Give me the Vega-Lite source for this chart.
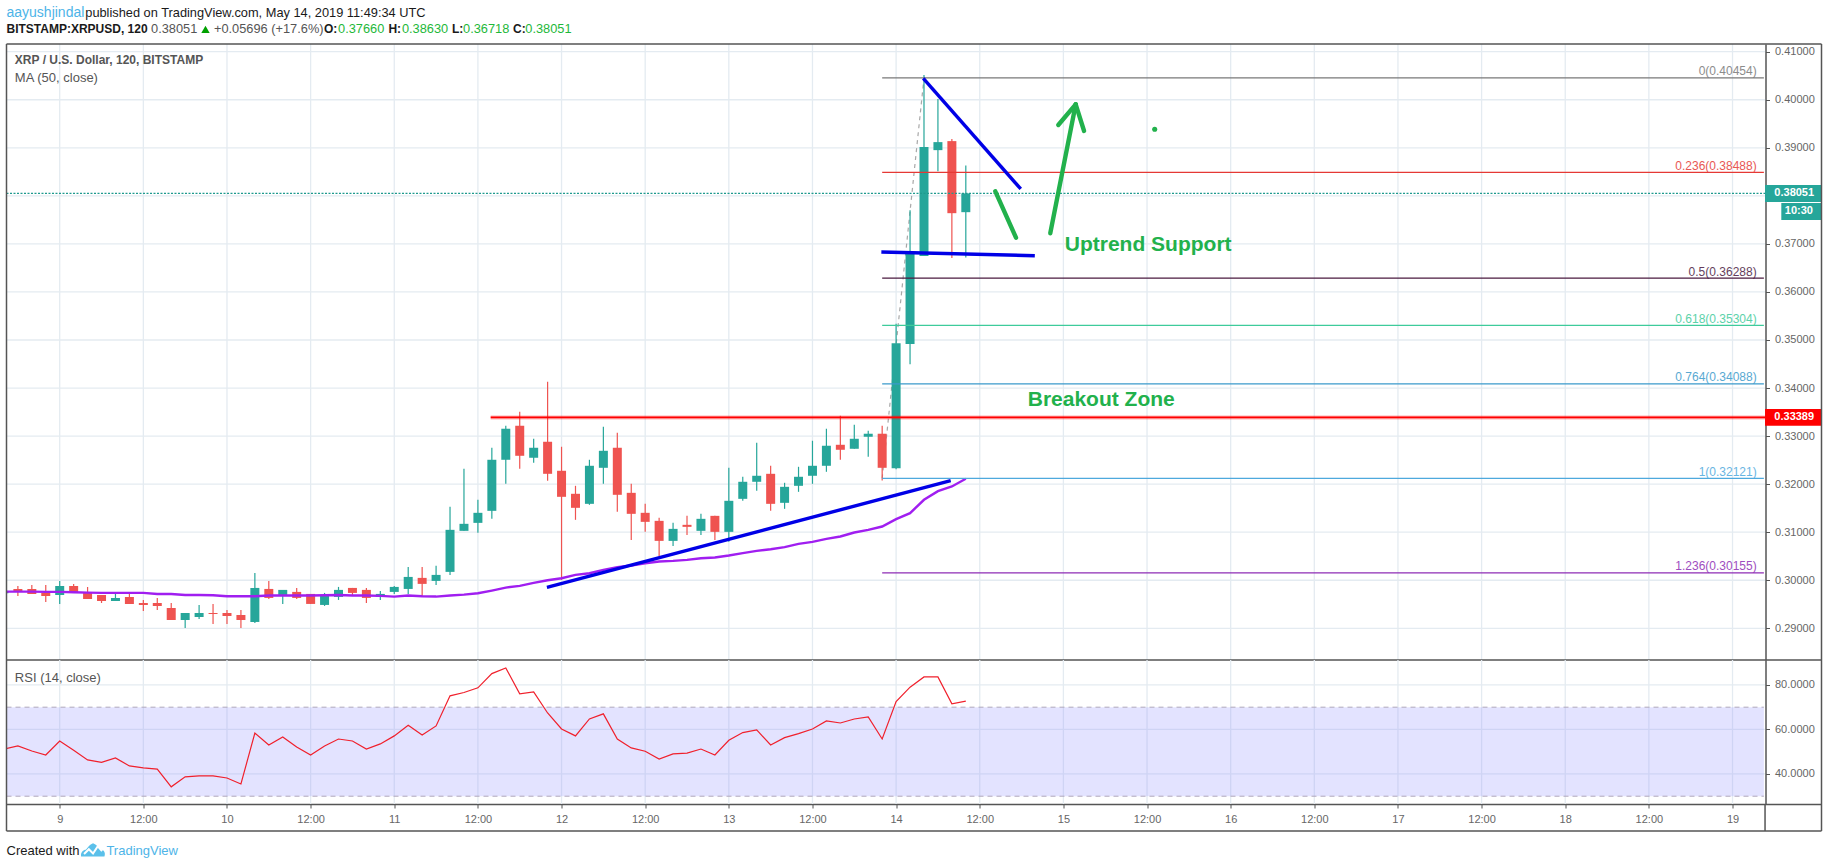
{"$schema":"https://vega.github.io/schema/vega-lite/v6.json","width":1815,"height":868,"padding":{"left":6.5,"right":6.5,"top":0,"bottom":0},"autosize":{"type":"none"},"background":"#ffffff","config":{"view":{"stroke":null},"font":"Liberation Sans"},
"encoding":{"x":{"field":"t","type":"temporal","title":null,"scale":{"type":"utc","padding":0,"domain":["2019-05-08T16:22:00Z","2019-05-19T12:46:00Z"]},"axis":{"orient":"bottom","offset":-64,"title":null,"grid":false,"domainColor":"#555555","domainWidth":1.5,"tickColor":"#555555","tickSize":4,"labelColor":"#666666","labelFont":"Liberation Sans","labelFontSize":11,"labelPadding":5,"labelOverlap":false,"labelFlush":false,"values":["2019-05-09T00:00:00Z","2019-05-09T12:00:00Z","2019-05-10T00:00:00Z","2019-05-10T12:00:00Z","2019-05-11T00:00:00Z","2019-05-11T12:00:00Z","2019-05-12T00:00:00Z","2019-05-12T12:00:00Z","2019-05-13T00:00:00Z","2019-05-13T12:00:00Z","2019-05-14T00:00:00Z","2019-05-14T12:00:00Z","2019-05-15T00:00:00Z","2019-05-15T12:00:00Z","2019-05-16T00:00:00Z","2019-05-16T12:00:00Z","2019-05-17T00:00:00Z","2019-05-17T12:00:00Z","2019-05-18T00:00:00Z","2019-05-18T12:00:00Z","2019-05-19T00:00:00Z"],"labelExpr":"utchours(datum.value)==0?''+utcdate(datum.value):'12:00'"}}},
"resolve":{"scale":{"y":"independent"},"axis":{"y":"independent"}},
"layer":[
{"encoding":{"y":{"field":"v","type":"quantitative","title":null,"scale":{"domain":[0.2834,0.4116],"range":[660,44]},"axis":{"orient":"right","offset":-56,"title":null,"grid":false,"format":".5f","values":[0.29,0.30,0.31,0.32,0.33,0.34,0.35,0.36,0.37,0.38,0.39,0.40,0.41],"domainColor":"#555555","domainWidth":1.5,"tickColor":"#555555","tickSize":4,"labelColor":"#666666","labelFont":"Liberation Sans","labelFontSize":11,"labelPadding":5,"labelOverlap":false,"labelFlush":false}}},
"layer":[
{"data":{"values":[{"v":0.29,"t":"2019-05-08T16:22:00Z","t2":"2019-05-19T04:40:00Z"},{"v":0.30,"t":"2019-05-08T16:22:00Z","t2":"2019-05-19T04:40:00Z"},{"v":0.31,"t":"2019-05-08T16:22:00Z","t2":"2019-05-19T04:40:00Z"},{"v":0.32,"t":"2019-05-08T16:22:00Z","t2":"2019-05-19T04:40:00Z"},{"v":0.33,"t":"2019-05-08T16:22:00Z","t2":"2019-05-19T04:40:00Z"},{"v":0.34,"t":"2019-05-08T16:22:00Z","t2":"2019-05-19T04:40:00Z"},{"v":0.35,"t":"2019-05-08T16:22:00Z","t2":"2019-05-19T04:40:00Z"},{"v":0.36,"t":"2019-05-08T16:22:00Z","t2":"2019-05-19T04:40:00Z"},{"v":0.37,"t":"2019-05-08T16:22:00Z","t2":"2019-05-19T04:40:00Z"},{"v":0.38,"t":"2019-05-08T16:22:00Z","t2":"2019-05-19T04:40:00Z"},{"v":0.39,"t":"2019-05-08T16:22:00Z","t2":"2019-05-19T04:40:00Z"},{"v":0.40,"t":"2019-05-08T16:22:00Z","t2":"2019-05-19T04:40:00Z"},{"v":0.41,"t":"2019-05-08T16:22:00Z","t2":"2019-05-19T04:40:00Z"}],"format":{"parse":{"t":"date","t2":"date"}}},"mark":{"type":"rule","color":"#e4ebf1","strokeWidth":1.3},"encoding":{"x2":{"field":"t2"}}},
{"data":{"values":[{"t":"2019-05-09T00:00:00Z","v":0.2834,"v2":0.4116},{"t":"2019-05-09T12:00:00Z","v":0.2834,"v2":0.4116},{"t":"2019-05-10T00:00:00Z","v":0.2834,"v2":0.4116},{"t":"2019-05-10T12:00:00Z","v":0.2834,"v2":0.4116},{"t":"2019-05-11T00:00:00Z","v":0.2834,"v2":0.4116},{"t":"2019-05-11T12:00:00Z","v":0.2834,"v2":0.4116},{"t":"2019-05-12T00:00:00Z","v":0.2834,"v2":0.4116},{"t":"2019-05-12T12:00:00Z","v":0.2834,"v2":0.4116},{"t":"2019-05-13T00:00:00Z","v":0.2834,"v2":0.4116},{"t":"2019-05-13T12:00:00Z","v":0.2834,"v2":0.4116},{"t":"2019-05-14T00:00:00Z","v":0.2834,"v2":0.4116},{"t":"2019-05-14T12:00:00Z","v":0.2834,"v2":0.4116},{"t":"2019-05-15T00:00:00Z","v":0.2834,"v2":0.4116},{"t":"2019-05-15T12:00:00Z","v":0.2834,"v2":0.4116},{"t":"2019-05-16T00:00:00Z","v":0.2834,"v2":0.4116},{"t":"2019-05-16T12:00:00Z","v":0.2834,"v2":0.4116},{"t":"2019-05-17T00:00:00Z","v":0.2834,"v2":0.4116},{"t":"2019-05-17T12:00:00Z","v":0.2834,"v2":0.4116},{"t":"2019-05-18T00:00:00Z","v":0.2834,"v2":0.4116},{"t":"2019-05-18T12:00:00Z","v":0.2834,"v2":0.4116},{"t":"2019-05-19T00:00:00Z","v":0.2834,"v2":0.4116}]},"mark":{"type":"rule","color":"#e4ebf1","strokeWidth":1.3},"encoding":{"y2":{"field":"v2"}}},
{"data":{"values":[{"t":"2019-05-13T22:00:00Z","t2":"2019-05-14T04:00:00Z","v":0.32121,"v2":0.40454}],"format":{"parse":{"t":"date","t2":"date"}}},"mark":{"type":"rule","color":"#a8a8a8","strokeWidth":1.2,"strokeDash":[4,4]},"encoding":{"x2":{"field":"t2"},"y2":{"field":"v2"}}},
{"data":{"name":"candles","values":[
{"t":"2019-05-08T16:00:00Z","d":"up","o":0.29729,"h":0.29778,"l":0.29729,"c":0.29778,"ma":0.29764},
{"t":"2019-05-08T18:00:00Z","d":"down","o":0.29819,"h":0.29882,"l":0.29674,"c":0.29764,"ma":0.29764},
{"t":"2019-05-08T20:00:00Z","d":"down","o":0.29819,"h":0.29903,"l":0.29715,"c":0.29715,"ma":0.29764},
{"t":"2019-05-08T22:00:00Z","d":"down","o":0.29736,"h":0.29903,"l":0.29549,"c":0.29674,"ma":0.29757},
{"t":"2019-05-09T00:00:00Z","d":"up","o":0.29694,"h":0.29986,"l":0.29507,"c":0.29882,"ma":0.29757},
{"t":"2019-05-09T02:00:00Z","d":"down","o":0.29882,"h":0.29924,"l":0.29736,"c":0.29736,"ma":0.2975},
{"t":"2019-05-09T04:00:00Z","d":"down","o":0.29736,"h":0.29861,"l":0.29611,"c":0.29611,"ma":0.29743},
{"t":"2019-05-09T06:00:00Z","d":"down","o":0.29694,"h":0.29694,"l":0.29528,"c":0.29569,"ma":0.29736},
{"t":"2019-05-09T08:00:00Z","d":"up","o":0.29569,"h":0.29743,"l":0.29569,"c":0.29632,"ma":0.29736},
{"t":"2019-05-09T10:00:00Z","d":"down","o":0.29653,"h":0.29743,"l":0.29507,"c":0.29507,"ma":0.29736},
{"t":"2019-05-09T12:00:00Z","d":"down","o":0.29528,"h":0.2959,"l":0.29361,"c":0.29486,"ma":0.29736},
{"t":"2019-05-09T14:00:00Z","d":"down","o":0.29528,"h":0.29632,"l":0.29382,"c":0.29465,"ma":0.29715},
{"t":"2019-05-09T16:00:00Z","d":"down","o":0.29424,"h":0.29528,"l":0.29174,"c":0.29174,"ma":0.29715},
{"t":"2019-05-09T18:00:00Z","d":"up","o":0.29174,"h":0.2932,"l":0.29007,"c":0.2932,"ma":0.29694},
{"t":"2019-05-09T20:00:00Z","d":"up","o":0.29236,"h":0.29486,"l":0.29194,"c":0.2932,"ma":0.29694},
{"t":"2019-05-09T22:00:00Z","d":"down","o":0.2932,"h":0.29507,"l":0.2909,"c":0.29299,"ma":0.29688},
{"t":"2019-05-10T00:00:00Z","d":"down","o":0.2932,"h":0.29382,"l":0.2909,"c":0.29257,"ma":0.29667},
{"t":"2019-05-10T02:00:00Z","d":"down","o":0.29278,"h":0.29382,"l":0.29007,"c":0.29174,"ma":0.29667},
{"t":"2019-05-10T04:00:00Z","d":"up","o":0.29132,"h":0.30153,"l":0.29111,"c":0.2984,"ma":0.29667},
{"t":"2019-05-10T06:00:00Z","d":"down","o":0.29819,"h":0.29986,"l":0.29611,"c":0.29632,"ma":0.29681},
{"t":"2019-05-10T08:00:00Z","d":"up","o":0.29694,"h":0.29799,"l":0.29507,"c":0.29799,"ma":0.29681},
{"t":"2019-05-10T10:00:00Z","d":"down","o":0.29757,"h":0.2984,"l":0.29611,"c":0.29632,"ma":0.29681},
{"t":"2019-05-10T12:00:00Z","d":"down","o":0.29715,"h":0.29715,"l":0.29507,"c":0.29507,"ma":0.29681},
{"t":"2019-05-10T14:00:00Z","d":"up","o":0.29486,"h":0.29736,"l":0.29465,"c":0.29674,"ma":0.29688},
{"t":"2019-05-10T16:00:00Z","d":"up","o":0.29653,"h":0.29861,"l":0.2959,"c":0.29799,"ma":0.29694},
{"t":"2019-05-10T18:00:00Z","d":"down","o":0.2984,"h":0.2984,"l":0.29694,"c":0.29736,"ma":0.29681},
{"t":"2019-05-10T20:00:00Z","d":"down","o":0.29799,"h":0.2984,"l":0.29528,"c":0.29632,"ma":0.29681},
{"t":"2019-05-10T22:00:00Z","d":"up","o":0.29653,"h":0.29778,"l":0.2959,"c":0.29715,"ma":0.29674},
{"t":"2019-05-11T00:00:00Z","d":"up","o":0.29757,"h":0.29882,"l":0.29715,"c":0.29861,"ma":0.2966},
{"t":"2019-05-11T02:00:00Z","d":"up","o":0.29819,"h":0.30278,"l":0.29715,"c":0.30069,"ma":0.29681},
{"t":"2019-05-11T04:00:00Z","d":"down","o":0.30049,"h":0.30278,"l":0.29674,"c":0.29924,"ma":0.29667},
{"t":"2019-05-11T06:00:00Z","d":"up","o":0.29986,"h":0.30299,"l":0.29903,"c":0.30111,"ma":0.2966},
{"t":"2019-05-11T08:00:00Z","d":"up","o":0.30174,"h":0.31528,"l":0.30111,"c":0.31049,"ma":0.29681},
{"t":"2019-05-11T10:00:00Z","d":"up","o":0.31028,"h":0.32319,"l":0.31028,"c":0.31174,"ma":0.29701},
{"t":"2019-05-11T12:00:00Z","d":"up","o":0.31194,"h":0.31674,"l":0.30986,"c":0.31403,"ma":0.29729},
{"t":"2019-05-11T14:00:00Z","d":"up","o":0.31444,"h":0.32757,"l":0.31278,"c":0.32507,"ma":0.29785},
{"t":"2019-05-11T16:00:00Z","d":"up","o":0.32507,"h":0.33215,"l":0.32007,"c":0.33153,"ma":0.29847},
{"t":"2019-05-11T18:00:00Z","d":"down","o":0.33215,"h":0.33507,"l":0.32319,"c":0.3259,"ma":0.29882},
{"t":"2019-05-11T20:00:00Z","d":"up","o":0.32549,"h":0.32944,"l":0.32444,"c":0.32757,"ma":0.29944},
{"t":"2019-05-11T22:00:00Z","d":"down","o":0.32882,"h":0.34132,"l":0.3207,"c":0.32215,"ma":0.3},
{"t":"2019-05-12T00:00:00Z","d":"down","o":0.32278,"h":0.32778,"l":0.30007,"c":0.31736,"ma":0.30042},
{"t":"2019-05-12T02:00:00Z","d":"down","o":0.31799,"h":0.31965,"l":0.31257,"c":0.31507,"ma":0.30111},
{"t":"2019-05-12T04:00:00Z","d":"up","o":0.3159,"h":0.32507,"l":0.31569,"c":0.32382,"ma":0.30146},
{"t":"2019-05-12T06:00:00Z","d":"up","o":0.3234,"h":0.33194,"l":0.32007,"c":0.32694,"ma":0.30215},
{"t":"2019-05-12T08:00:00Z","d":"down","o":0.32757,"h":0.33069,"l":0.31424,"c":0.31778,"ma":0.30271},
{"t":"2019-05-12T10:00:00Z","d":"down","o":0.31819,"h":0.32007,"l":0.3084,"c":0.31382,"ma":0.30306},
{"t":"2019-05-12T12:00:00Z","d":"down","o":0.31403,"h":0.3159,"l":0.31007,"c":0.31215,"ma":0.30354},
{"t":"2019-05-12T14:00:00Z","d":"down","o":0.31236,"h":0.31299,"l":0.30507,"c":0.30819,"ma":0.30389},
{"t":"2019-05-12T16:00:00Z","d":"up","o":0.30819,"h":0.31194,"l":0.30715,"c":0.31069,"ma":0.30403},
{"t":"2019-05-12T18:00:00Z","d":"down","o":0.31153,"h":0.3134,"l":0.30944,"c":0.31111,"ma":0.30424},
{"t":"2019-05-12T20:00:00Z","d":"up","o":0.31028,"h":0.31382,"l":0.30944,"c":0.31278,"ma":0.30458},
{"t":"2019-05-12T22:00:00Z","d":"down","o":0.3134,"h":0.3134,"l":0.3084,"c":0.31007,"ma":0.30472},
{"t":"2019-05-13T00:00:00Z","d":"up","o":0.31007,"h":0.3234,"l":0.30799,"c":0.31653,"ma":0.30514},
{"t":"2019-05-13T02:00:00Z","d":"up","o":0.31694,"h":0.32153,"l":0.31653,"c":0.32049,"ma":0.30563},
{"t":"2019-05-13T04:00:00Z","d":"up","o":0.32049,"h":0.32861,"l":0.31861,"c":0.32174,"ma":0.30611},
{"t":"2019-05-13T06:00:00Z","d":"down","o":0.32215,"h":0.32382,"l":0.31444,"c":0.3159,"ma":0.30646},
{"t":"2019-05-13T08:00:00Z","d":"up","o":0.31611,"h":0.32028,"l":0.31486,"c":0.31944,"ma":0.30688},
{"t":"2019-05-13T10:00:00Z","d":"up","o":0.31965,"h":0.32361,"l":0.3184,"c":0.32153,"ma":0.30757},
{"t":"2019-05-13T12:00:00Z","d":"up","o":0.32174,"h":0.32903,"l":0.32007,"c":0.32382,"ma":0.30799},
{"t":"2019-05-13T14:00:00Z","d":"up","o":0.32382,"h":0.33153,"l":0.32257,"c":0.32799,"ma":0.30861},
{"t":"2019-05-13T16:00:00Z","d":"down","o":0.32819,"h":0.33424,"l":0.32507,"c":0.32715,"ma":0.3091},
{"t":"2019-05-13T18:00:00Z","d":"up","o":0.32736,"h":0.33236,"l":0.32736,"c":0.32944,"ma":0.30993},
{"t":"2019-05-13T20:00:00Z","d":"up","o":0.32986,"h":0.33111,"l":0.32569,"c":0.33049,"ma":0.31049},
{"t":"2019-05-13T22:00:00Z","d":"down","o":0.33049,"h":0.33215,"l":0.32076,"c":0.3234,"ma":0.31118},
{"t":"2019-05-14T00:00:00Z","d":"up","o":0.32333,"h":0.3534,"l":0.32312,"c":0.34931,"ma":0.31271},
{"t":"2019-05-14T02:00:00Z","d":"up","o":0.34917,"h":0.37701,"l":0.34493,"c":0.36799,"ma":0.31396},
{"t":"2019-05-14T04:00:00Z","d":"up","o":0.3675,"h":0.40514,"l":0.3675,"c":0.39014,"ma":0.31674},
{"t":"2019-05-14T06:00:00Z","d":"up","o":0.38951,"h":0.40014,"l":0.38514,"c":0.39118,"ma":0.31854},
{"t":"2019-05-14T08:00:00Z","d":"down","o":0.39139,"h":0.39181,"l":0.36708,"c":0.37639,"ma":0.31951},
{"t":"2019-05-14T10:00:00Z","d":"up","o":0.3766,"h":0.3863,"l":0.36718,"c":0.38051,"ma":0.32111}
]},
"layer":[
{"mark":{"type":"rule","strokeWidth":1.2,"clip":true},"encoding":{"y":{"field":"l","type":"quantitative","title":null,"scale":{"domain":[0.2834,0.4116],"range":[660,44]},"axis":{"orient":"right","offset":-56,"title":null,"grid":false,"format":".5f","values":[0.29,0.30,0.31,0.32,0.33,0.34,0.35,0.36,0.37,0.38,0.39,0.40,0.41],"domainColor":"#555555","domainWidth":1.5,"tickColor":"#555555","tickSize":4,"labelColor":"#666666","labelFont":"Liberation Sans","labelFontSize":11,"labelPadding":5,"labelOverlap":false,"labelFlush":false}},"y2":{"field":"h"},"color":{"field":"d","type":"nominal","legend":null,"scale":{"domain":["up","down","f0","f236","f5","f618","f764","f1","f1236","link","black","gain","gray","white","zone","blue","red"],"range":["#26a69a","#ef5350","#787878","#e53935","#4a1a3f","#3ecb9b","#3a9acb","#4ea9dd","#8e2db5","#4db4e8","#1a1a1a","#1eb83a","#555555","#ffffff","#22b14c","#0000e6","#ff0000"]}}}},
{"mark":{"type":"bar","size":9,"clip":true},"encoding":{"y":{"field":"o","type":"quantitative","title":null,"scale":{"domain":[0.2834,0.4116],"range":[660,44]},"axis":{"orient":"right","offset":-56,"title":null,"grid":false,"format":".5f","values":[0.29,0.30,0.31,0.32,0.33,0.34,0.35,0.36,0.37,0.38,0.39,0.40,0.41],"domainColor":"#555555","domainWidth":1.5,"tickColor":"#555555","tickSize":4,"labelColor":"#666666","labelFont":"Liberation Sans","labelFontSize":11,"labelPadding":5,"labelOverlap":false,"labelFlush":false}},"y2":{"field":"c"},"color":{"field":"d","type":"nominal","legend":null,"scale":{"domain":["up","down","f0","f236","f5","f618","f764","f1","f1236","link","black","gain","gray","white","zone","blue","red"],"range":["#26a69a","#ef5350","#787878","#e53935","#4a1a3f","#3ecb9b","#3a9acb","#4ea9dd","#8e2db5","#4db4e8","#1a1a1a","#1eb83a","#555555","#ffffff","#22b14c","#0000e6","#ff0000"]}}}},
{"mark":{"type":"line","color":"#a01ef0","strokeWidth":2.4,"clip":true,"interpolate":"linear"},"encoding":{"y":{"field":"ma","type":"quantitative","title":null,"scale":{"domain":[0.2834,0.4116],"range":[660,44]},"axis":{"orient":"right","offset":-56,"title":null,"grid":false,"format":".5f","values":[0.29,0.30,0.31,0.32,0.33,0.34,0.35,0.36,0.37,0.38,0.39,0.40,0.41],"domainColor":"#555555","domainWidth":1.5,"tickColor":"#555555","tickSize":4,"labelColor":"#666666","labelFont":"Liberation Sans","labelFontSize":11,"labelPadding":5,"labelOverlap":false,"labelFlush":false}}}}
]},
{"data":{"values":[{"t":"2019-05-08T16:22:00Z","t2":"2019-05-19T04:40:00Z","v":0.38051}],"format":{"parse":{"t":"date","t2":"date"}}},"mark":{"type":"rule","color":"#1f9a8e","strokeWidth":1.2,"strokeDash":[2,1.5]},"encoding":{"x2":{"field":"t2"}}},
{"data":{"values":[{"k":"f0","t":"2019-05-13T22:00:00Z","t2":"2019-05-19T04:30:00Z","v":0.40454},{"k":"f236","t":"2019-05-13T22:00:00Z","t2":"2019-05-19T04:30:00Z","v":0.38488},{"k":"f5","t":"2019-05-13T22:00:00Z","t2":"2019-05-19T04:30:00Z","v":0.36288},{"k":"f618","t":"2019-05-13T22:00:00Z","t2":"2019-05-19T04:30:00Z","v":0.35304},{"k":"f764","t":"2019-05-13T22:00:00Z","t2":"2019-05-19T04:30:00Z","v":0.34088},{"k":"f1","t":"2019-05-13T22:00:00Z","t2":"2019-05-19T04:30:00Z","v":0.32121},{"k":"f1236","t":"2019-05-13T22:00:00Z","t2":"2019-05-19T04:30:00Z","v":0.30155}],"format":{"parse":{"t":"date","t2":"date"}}},"mark":{"type":"rule","strokeWidth":1.2},"encoding":{"x2":{"field":"t2"},"color":{"field":"k","type":"nominal","legend":null,"scale":{"domain":["up","down","f0","f236","f5","f618","f764","f1","f1236","link","black","gain","gray","white","zone","blue","red"],"range":["#26a69a","#ef5350","#787878","#e53935","#4a1a3f","#3ecb9b","#3a9acb","#4ea9dd","#8e2db5","#4db4e8","#1a1a1a","#1eb83a","#555555","#ffffff","#22b14c","#0000e6","#ff0000"]}}}},
{"data":{"values":[{"k":"f0","label":"0(0.40454)","t":"2019-05-19T03:28:00Z","v":0.40589},{"k":"f236","label":"0.236(0.38488)","t":"2019-05-19T03:28:00Z","v":0.38623},{"k":"f5","label":"0.5(0.36288)","t":"2019-05-19T03:28:00Z","v":0.36423},{"k":"f618","label":"0.618(0.35304)","t":"2019-05-19T03:28:00Z","v":0.35439},{"k":"f764","label":"0.764(0.34088)","t":"2019-05-19T03:28:00Z","v":0.34223},{"k":"f1","label":"1(0.32121)","t":"2019-05-19T03:28:00Z","v":0.32256},{"k":"f1236","label":"1.236(0.30155)","t":"2019-05-19T03:28:00Z","v":0.3029}]},"mark":{"type":"text","align":"right","baseline":"middle","fontSize":12,"opacity":0.85},"encoding":{"text":{"field":"label"},"color":{"field":"k","type":"nominal","legend":null,"scale":{"domain":["up","down","f0","f236","f5","f618","f764","f1","f1236","link","black","gain","gray","white","zone","blue","red"],"range":["#26a69a","#ef5350","#787878","#e53935","#4a1a3f","#3ecb9b","#3a9acb","#4ea9dd","#8e2db5","#4db4e8","#1a1a1a","#1eb83a","#555555","#ffffff","#22b14c","#0000e6","#ff0000"]}}}},
{"data":{"values":[{"t":"2019-05-11T13:50:00Z","t2":"2019-05-19T04:40:00Z","v":0.33389}],"format":{"parse":{"t":"date","t2":"date"}}},"layer":[{"mark":{"type":"rule","color":"#ff0000","strokeWidth":4,"opacity":0.3},"encoding":{"x2":{"field":"t2"}}},{"mark":{"type":"rule","color":"#ff0000","strokeWidth":1.8},"encoding":{"x2":{"field":"t2"}}}]},
{"data":{"values":[{"t":"2019-05-11T21:54:00Z","t2":"2019-05-14T07:50:00Z","v":0.29853,"v2":0.32072},{"t":"2019-05-14T03:54:00Z","t2":"2019-05-14T17:53:00Z","v":0.40446,"v2":0.38143},{"t":"2019-05-13T21:53:00Z","t2":"2019-05-14T19:54:00Z","v":0.36831,"v2":0.36754}],"format":{"parse":{"t":"date","t2":"date"}}},"mark":{"type":"rule","color":"#0000e6","strokeWidth":3.4},"encoding":{"x2":{"field":"t2"},"y2":{"field":"v2"}}},
{"data":{"values":[{"t":"2019-05-14T14:14:00Z","t2":"2019-05-14T17:12:00Z","v":0.38095,"v2":0.37129},{"t":"2019-05-14T22:07:00Z","t2":"2019-05-15T01:46:00Z","v":0.37221,"v2":0.39905},{"t":"2019-05-14T23:16:00Z","t2":"2019-05-15T01:46:00Z","v":0.39475,"v2":0.39905},{"t":"2019-05-15T02:58:00Z","t2":"2019-05-15T01:46:00Z","v":0.3935,"v2":0.39905}],"format":{"parse":{"t":"date","t2":"date"}}},"mark":{"type":"rule","color":"#22b14c","strokeWidth":4.4,"strokeCap":"round"},"encoding":{"x2":{"field":"t2"},"y2":{"field":"v2"}}},
{"data":{"values":[{"t":"2019-05-15T13:06:00Z","v":0.39385}]},"mark":{"type":"point","filled":true,"opacity":1,"color":"#22b14c","size":26}},
{"data":{"values":[{"t":"2019-05-19T04:40:00Z","t2":"2019-05-19T12:46:00Z","v":0.38225,"v2":0.37872,"k":"up"},{"t":"2019-05-19T07:00:00Z","t2":"2019-05-19T12:46:00Z","v":0.37851,"v2":0.37497,"k":"up"},{"t":"2019-05-19T04:40:00Z","t2":"2019-05-19T12:46:00Z","v":0.33564,"v2":0.33217,"k":"red"}],"format":{"parse":{"t":"date","t2":"date"}}},"mark":{"type":"rect"},"encoding":{"x2":{"field":"t2"},"y2":{"field":"v2"},"color":{"field":"k","type":"nominal","legend":null,"scale":{"domain":["up","down","f0","f236","f5","f618","f764","f1","f1236","link","black","gain","gray","white","zone","blue","red"],"range":["#26a69a","#ef5350","#787878","#e53935","#4a1a3f","#3ecb9b","#3a9acb","#4ea9dd","#8e2db5","#4db4e8","#1a1a1a","#1eb83a","#555555","#ffffff","#22b14c","#0000e6","#ff0000"]}}}},
{"data":{"values":[{"t":"2019-05-08T16:22:00Z","t2":"2019-05-19T12:46:00Z","v":0.4116},{"t":"2019-05-08T16:22:00Z","t2":"2019-05-19T12:46:00Z","v":0.2834}],"format":{"parse":{"t":"date","t2":"date"}}},"mark":{"type":"rule","color":"#555555","strokeWidth":1.5},"encoding":{"x2":{"field":"t2"}}},
{"data":{"values":[{"t":"2019-05-08T16:22:00Z","v":0.4116,"v2":0.2834},{"t":"2019-05-19T12:46:00Z","v":0.4116,"v2":0.2834}]},"mark":{"type":"rule","color":"#555555","strokeWidth":1.5},"encoding":{"y2":{"field":"v2"}}},
{"data":{"values":[{"label":"aayushjindal","t":"2019-05-08T16:22:00Z","v":0.41812}]},"mark":{"type":"text","align":"left","baseline":"middle","fontSize":14,"color":"#4db4e8"},"encoding":{"text":{"field":"label"}}},
{"data":{"values":[{"label":"published on TradingView.com, May 14, 2019 11:49:34 UTC","k":"black","t":"2019-05-09T03:40:00Z","v":0.41812},{"label":"0.38051","k":"gray","t":"2019-05-09T13:06:00Z","v":0.41466},{"label":"+0.05696 (+17.6%)","k":"gray","t":"2019-05-09T22:08:00Z","v":0.41466},{"label":"0.37660","k":"gain","t":"2019-05-10T15:56:00Z","v":0.41466},{"label":"0.38630","k":"gain","t":"2019-05-11T01:06:00Z","v":0.41466},{"label":"0.36718","k":"gain","t":"2019-05-11T09:52:00Z","v":0.41466},{"label":"0.38051","k":"gain","t":"2019-05-11T18:48:00Z","v":0.41466}]},"mark":{"type":"text","align":"left","baseline":"middle","fontSize":12.8},"encoding":{"text":{"field":"label"},"color":{"field":"k","type":"nominal","legend":null,"scale":{"domain":["up","down","f0","f236","f5","f618","f764","f1","f1236","link","black","gain","gray","white","zone","blue","red"],"range":["#26a69a","#ef5350","#787878","#e53935","#4a1a3f","#3ecb9b","#3a9acb","#4ea9dd","#8e2db5","#4db4e8","#1a1a1a","#1eb83a","#555555","#ffffff","#22b14c","#0000e6","#ff0000"]}}}},
{"data":{"values":[{"label":"MA (50, close)","t":"2019-05-08T17:34:00Z","v":0.40459}]},"mark":{"type":"text","align":"left","baseline":"middle","fontSize":13,"color":"#555555"},"encoding":{"text":{"field":"label"}}},
{"data":{"values":[{"label":"BITSTAMP:XRPUSD, 120","k":"black","t":"2019-05-08T16:22:00Z","v":0.41466},{"label":"O:","k":"black","t":"2019-05-10T13:55:00Z","v":0.41466},{"label":"H:","k":"black","t":"2019-05-10T23:10:00Z","v":0.41466},{"label":"L:","k":"black","t":"2019-05-11T08:17:00Z","v":0.41466},{"label":"C:","k":"black","t":"2019-05-11T17:02:00Z","v":0.41466},{"label":"XRP / U.S. Dollar, 120, BITSTAMP","k":"gray","t":"2019-05-08T17:34:00Z","v":0.40821}]},"mark":{"type":"text","align":"left","baseline":"middle","fontSize":12,"fontWeight":"bold"},"encoding":{"text":{"field":"label"},"color":{"field":"k","type":"nominal","legend":null,"scale":{"domain":["up","down","f0","f236","f5","f618","f764","f1","f1236","link","black","gain","gray","white","zone","blue","red"],"range":["#26a69a","#ef5350","#787878","#e53935","#4a1a3f","#3ecb9b","#3a9acb","#4ea9dd","#8e2db5","#4db4e8","#1a1a1a","#1eb83a","#555555","#ffffff","#22b14c","#0000e6","#ff0000"]}}}},
{"data":{"values":[{"t":"2019-05-09T20:55:00Z","v":0.41466}]},"mark":{"type":"point","shape":"triangle-up","filled":true,"opacity":1,"color":"#00a000","size":70}},
{"data":{"values":[{"label":"0.38051","t":"2019-05-19T06:00:00Z","v":0.3805},{"label":"10:30","t":"2019-05-19T07:30:00Z","v":0.37685},{"label":"0.33389","t":"2019-05-19T06:00:00Z","v":0.3339}]},"mark":{"type":"text","align":"left","baseline":"middle","fontSize":11,"fontWeight":"bold","color":"#ffffff"},"encoding":{"text":{"field":"label"}}},
{"data":{"values":[{"label":"Uptrend Support","t":"2019-05-15T00:12:00Z","v":0.36977},{"label":"Breakout Zone","t":"2019-05-14T18:53:00Z","v":0.33751}]},"mark":{"type":"text","align":"left","baseline":"middle","fontSize":21,"fontWeight":"bold","color":"#22b14c"},"encoding":{"text":{"field":"label"}}}
]},
{"encoding":{"y":{"field":"v","type":"quantitative","title":null,"scale":{"domain":[26.5,91.2],"range":[804,660]},"axis":{"orient":"right","offset":-56,"title":null,"grid":false,"format":".4f","values":[40,60,80],"domainColor":"#555555","domainWidth":1.5,"tickColor":"#555555","tickSize":4,"labelColor":"#666666","labelFont":"Liberation Sans","labelFontSize":11,"labelPadding":5,"labelOverlap":false,"labelFlush":false}}},
"layer":[
{"data":{"values":[{"v":40,"t":"2019-05-08T16:22:00Z","t2":"2019-05-19T04:40:00Z"},{"v":60,"t":"2019-05-08T16:22:00Z","t2":"2019-05-19T04:40:00Z"},{"v":80,"t":"2019-05-08T16:22:00Z","t2":"2019-05-19T04:40:00Z"}],"format":{"parse":{"t":"date","t2":"date"}}},"mark":{"type":"rule","color":"#e4ebf1","strokeWidth":1.3},"encoding":{"x2":{"field":"t2"}}},
{"data":{"values":[{"t":"2019-05-09T00:00:00Z","v":26.5,"v2":91.2},{"t":"2019-05-09T12:00:00Z","v":26.5,"v2":91.2},{"t":"2019-05-10T00:00:00Z","v":26.5,"v2":91.2},{"t":"2019-05-10T12:00:00Z","v":26.5,"v2":91.2},{"t":"2019-05-11T00:00:00Z","v":26.5,"v2":91.2},{"t":"2019-05-11T12:00:00Z","v":26.5,"v2":91.2},{"t":"2019-05-12T00:00:00Z","v":26.5,"v2":91.2},{"t":"2019-05-12T12:00:00Z","v":26.5,"v2":91.2},{"t":"2019-05-13T00:00:00Z","v":26.5,"v2":91.2},{"t":"2019-05-13T12:00:00Z","v":26.5,"v2":91.2},{"t":"2019-05-14T00:00:00Z","v":26.5,"v2":91.2},{"t":"2019-05-14T12:00:00Z","v":26.5,"v2":91.2},{"t":"2019-05-15T00:00:00Z","v":26.5,"v2":91.2},{"t":"2019-05-15T12:00:00Z","v":26.5,"v2":91.2},{"t":"2019-05-16T00:00:00Z","v":26.5,"v2":91.2},{"t":"2019-05-16T12:00:00Z","v":26.5,"v2":91.2},{"t":"2019-05-17T00:00:00Z","v":26.5,"v2":91.2},{"t":"2019-05-17T12:00:00Z","v":26.5,"v2":91.2},{"t":"2019-05-18T00:00:00Z","v":26.5,"v2":91.2},{"t":"2019-05-18T12:00:00Z","v":26.5,"v2":91.2},{"t":"2019-05-19T00:00:00Z","v":26.5,"v2":91.2}]},"mark":{"type":"rule","color":"#e4ebf1","strokeWidth":1.3},"encoding":{"y2":{"field":"v2"}}},
{"data":{"values":[{"t":"2019-05-08T16:22:00Z","t2":"2019-05-19T04:30:00Z","v":30,"v2":70}],"format":{"parse":{"t":"date","t2":"date"}}},"mark":{"type":"rect","color":"#9090ff","opacity":0.25},"encoding":{"x2":{"field":"t2"},"y2":{"field":"v2"}}},
{"data":{"values":[{"t":"2019-05-08T16:22:00Z","t2":"2019-05-19T04:30:00Z","v":30},{"t":"2019-05-08T16:22:00Z","t2":"2019-05-19T04:30:00Z","v":70}],"format":{"parse":{"t":"date","t2":"date"}}},"mark":{"type":"rule","color":"#b0a8bc","strokeWidth":1,"strokeDash":[5,4]},"encoding":{"x2":{"field":"t2"}}},
{"data":{"values":[
{"t":"2019-05-08T16:00:00Z","rsi":51.2},{"t":"2019-05-08T18:00:00Z","rsi":52.6},{"t":"2019-05-08T20:00:00Z","rsi":50.3},{"t":"2019-05-08T22:00:00Z","rsi":48.5},
{"t":"2019-05-09T00:00:00Z","rsi":54.8},{"t":"2019-05-09T02:00:00Z","rsi":50.6},{"t":"2019-05-09T04:00:00Z","rsi":46.3},{"t":"2019-05-09T06:00:00Z","rsi":45.2},{"t":"2019-05-09T08:00:00Z","rsi":47.2},{"t":"2019-05-09T10:00:00Z","rsi":43.6},{"t":"2019-05-09T12:00:00Z","rsi":42.7},{"t":"2019-05-09T14:00:00Z","rsi":42.2},{"t":"2019-05-09T16:00:00Z","rsi":34.2},{"t":"2019-05-09T18:00:00Z","rsi":38.7},{"t":"2019-05-09T20:00:00Z","rsi":39.1},{"t":"2019-05-09T22:00:00Z","rsi":39.1},
{"t":"2019-05-10T00:00:00Z","rsi":38.2},{"t":"2019-05-10T02:00:00Z","rsi":35.5},{"t":"2019-05-10T04:00:00Z","rsi":58.4},{"t":"2019-05-10T06:00:00Z","rsi":53.0},{"t":"2019-05-10T08:00:00Z","rsi":56.6},{"t":"2019-05-10T10:00:00Z","rsi":52.1},{"t":"2019-05-10T12:00:00Z","rsi":48.5},{"t":"2019-05-10T14:00:00Z","rsi":52.6},{"t":"2019-05-10T16:00:00Z","rsi":55.7},{"t":"2019-05-10T18:00:00Z","rsi":54.8},{"t":"2019-05-10T20:00:00Z","rsi":51.2},{"t":"2019-05-10T22:00:00Z","rsi":53.5},
{"t":"2019-05-11T00:00:00Z","rsi":57.1},{"t":"2019-05-11T02:00:00Z","rsi":61.9},{"t":"2019-05-11T04:00:00Z","rsi":57.5},{"t":"2019-05-11T06:00:00Z","rsi":61.6},{"t":"2019-05-11T08:00:00Z","rsi":75.1},{"t":"2019-05-11T10:00:00Z","rsi":76.6},{"t":"2019-05-11T12:00:00Z","rsi":78.7},{"t":"2019-05-11T14:00:00Z","rsi":85.1},{"t":"2019-05-11T16:00:00Z","rsi":87.6},{"t":"2019-05-11T18:00:00Z","rsi":76.0},{"t":"2019-05-11T20:00:00Z","rsi":76.9},{"t":"2019-05-11T22:00:00Z","rsi":67.4},
{"t":"2019-05-12T00:00:00Z","rsi":60.2},{"t":"2019-05-12T02:00:00Z","rsi":57.1},{"t":"2019-05-12T04:00:00Z","rsi":64.7},{"t":"2019-05-12T06:00:00Z","rsi":67.0},{"t":"2019-05-12T08:00:00Z","rsi":55.7},{"t":"2019-05-12T10:00:00Z","rsi":51.7},{"t":"2019-05-12T12:00:00Z","rsi":50.2},{"t":"2019-05-12T14:00:00Z","rsi":46.7},{"t":"2019-05-12T16:00:00Z","rsi":49.0},{"t":"2019-05-12T18:00:00Z","rsi":49.4},{"t":"2019-05-12T20:00:00Z","rsi":51.2},{"t":"2019-05-12T22:00:00Z","rsi":48.5},
{"t":"2019-05-13T00:00:00Z","rsi":55.1},{"t":"2019-05-13T02:00:00Z","rsi":58.6},{"t":"2019-05-13T04:00:00Z","rsi":59.8},{"t":"2019-05-13T06:00:00Z","rsi":53.0},{"t":"2019-05-13T08:00:00Z","rsi":56.3},{"t":"2019-05-13T10:00:00Z","rsi":58.1},{"t":"2019-05-13T12:00:00Z","rsi":60.2},{"t":"2019-05-13T14:00:00Z","rsi":63.8},{"t":"2019-05-13T16:00:00Z","rsi":62.9},{"t":"2019-05-13T18:00:00Z","rsi":64.7},{"t":"2019-05-13T20:00:00Z","rsi":65.6},{"t":"2019-05-13T22:00:00Z","rsi":55.7},
{"t":"2019-05-14T00:00:00Z","rsi":72.5},{"t":"2019-05-14T02:00:00Z","rsi":79.0},{"t":"2019-05-14T04:00:00Z","rsi":83.6},{"t":"2019-05-14T06:00:00Z","rsi":83.6},{"t":"2019-05-14T08:00:00Z","rsi":71.5},{"t":"2019-05-14T10:00:00Z","rsi":72.7}
]},"mark":{"type":"line","color":"#f0202c","strokeWidth":1.2,"clip":true},"encoding":{"y":{"field":"rsi","type":"quantitative","title":null,"scale":{"domain":[26.5,91.2],"range":[804,660]},"axis":{"orient":"right","offset":-56,"title":null,"grid":false,"format":".4f","values":[40,60,80],"domainColor":"#555555","domainWidth":1.5,"tickColor":"#555555","tickSize":4,"labelColor":"#666666","labelFont":"Liberation Sans","labelFontSize":11,"labelPadding":5,"labelOverlap":false,"labelFlush":false}}}},
{"data":{"values":[{"t":"2019-05-08T16:22:00Z","v":91.2,"v2":14.37},{"t":"2019-05-19T12:46:00Z","v":91.2,"v2":14.37},{"t":"2019-05-19T04:40:00Z","v":26.5,"v2":14.37}]},"mark":{"type":"rule","color":"#555555","strokeWidth":1.5},"encoding":{"y2":{"field":"v2"}}},
{"data":{"values":[{"t":"2019-05-08T16:22:00Z","t2":"2019-05-19T12:46:00Z","v":14.37}],"format":{"parse":{"t":"date","t2":"date"}}},"mark":{"type":"rule","color":"#555555","strokeWidth":1.5},"encoding":{"x2":{"field":"t2"}}},
{"data":{"values":[{"label":"RSI (14, close)","t":"2019-05-08T17:34:00Z","v":83.3}]},"mark":{"type":"text","align":"left","baseline":"middle","fontSize":13,"color":"#555555"},"encoding":{"text":{"field":"label"}}},
{"data":{"values":[{"label":"Created with","t":"2019-05-08T16:22:00Z","v":5.52}]},"mark":{"type":"text","align":"left","baseline":"middle","fontSize":13,"color":"#1a1a1a"},"encoding":{"text":{"field":"label"}}},
{"data":{"values":[{"label":"TradingView","t":"2019-05-09T06:42:00Z","v":5.52}]},"mark":{"type":"text","align":"left","baseline":"middle","fontSize":13,"color":"#4db4e8"},"encoding":{"text":{"field":"label"}}},
{"data":{"values":[{"t":"2019-05-09T04:47:00Z","v":5.9}]},"mark":{"type":"point","filled":true,"opacity":1,"color":"#5bc0ea","size":576,"shape":"M-1,0.55 C-1.05,0.2 -0.8,0 -0.6,0 C-0.5,-0.1 -0.35,-0.4 0,-0.55 C0.35,-0.4 0.5,-0.1 0.7,0 C0.95,0.05 1.05,0.3 0.95,0.55 Z"}},
{"data":{"values":[{"t":"2019-05-09T04:47:00Z","v":5.9}]},"mark":{"type":"point","filled":false,"opacity":1,"color":"#ffffff","strokeWidth":2,"size":576,"shape":"M-0.75,0.35 L-0.35,-0.05 L0,0.3 L0.4,-0.3 L0.75,0.1"}}
]}
]}
